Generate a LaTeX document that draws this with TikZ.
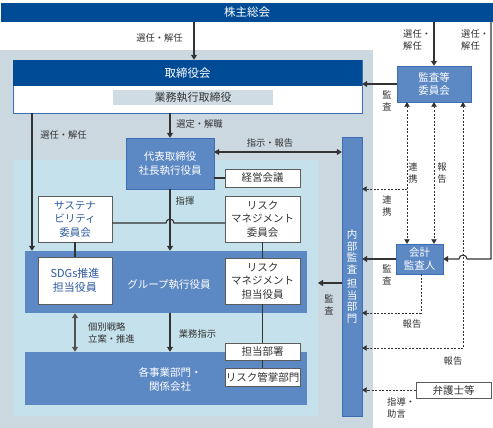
\documentclass[tikz,border=0pt]{standalone}
\usepackage{fontspec}
\setmainfont{Noto Sans CJK JP}
\usepackage{xcolor}
\usepackage{tikz}
\usetikzlibrary{arrows.meta}
\definecolor{darkblue}{HTML}{004B96}
\definecolor{midblue}{HTML}{5C88C4}
\definecolor{midedge}{HTML}{3D6DB3}
\definecolor{graybg}{HTML}{CBD8E0}
\definecolor{lightbg}{HTML}{C5E1EC}
\definecolor{bandbg}{HTML}{D0DCE4}
\definecolor{textblue}{HTML}{2C5AA0}
\definecolor{textgray}{HTML}{333333}
\tikzstyle{line} = [line width=1.1pt,draw=textgray]
\tikzstyle{arrow} = [line,-{Triangle[length=5pt,width=6pt]}]
\tikzstyle{darrow} = [line,{Triangle[length=5pt,width=6pt]}-{Triangle[length=5pt,width=6pt]}]
\tikzstyle{dline} = [line width=0.8pt,draw=textgray,dash pattern=on 2pt off 1.5pt]
\tikzstyle{darrowd} = [dline,-{Triangle[length=4.5pt,width=5.5pt]}]
\tikzstyle{ddarrow} = [dline,{Triangle[length=4.5pt,width=5.5pt]}-{Triangle[length=4.5pt,width=5.5pt]}]
\tikzstyle{bluebox} = [draw=midedge,fill=midblue,text=white,align=center,inner sep=0pt,font=\fontsize{10.5}{13.5}\selectfont]
\tikzstyle{whitebox} = [draw=textgray!80,fill=white,text=textgray,align=center,inner sep=0pt,font=\fontsize{10.5}{13.5}\selectfont]
\tikzstyle{lbl} = [text=textgray,align=center,inner sep=0pt,font=\fontsize{9.3}{12.5}\selectfont]

\begin{document}
\begin{tikzpicture}[x=1pt,y=-1pt]
	\useasboundingbox (0,0) rectangle (493,428);
	
	% Backgrounds:
	\fill[graybg] (0,50) rectangle (373,428);
	\fill[lightbg] (13,160) rectangle (318,416);
	
	% Top bar and board:
	\node[fill=darkblue,text=white,minimum width=492pt,minimum height=19pt,inner sep=0pt,font=\fontsize{11.5}{13}\selectfont] (sh) at (247,12.5) {株主総会};
	\node[draw=midedge,fill=white,minimum width=349pt,minimum height=53pt,inner sep=0pt] (bod) at (187.5,86.5) {};
	\node[fill=darkblue,text=white,minimum width=349pt,minimum height=26pt,inner sep=0pt,font=\fontsize{11.5}{13}\selectfont] (bodhead) at (187.5,73) {取締役会};
	\node[fill=bandbg,text=textgray,minimum width=160pt,minimum height=15pt,inner sep=0pt,font=\fontsize{11}{13}\selectfont] (band) at (193,97.5) {業務執行取締役};
	
	% Executives:
	\node[bluebox,minimum width=88pt,minimum height=51pt] (ceo) at (170,163.5) {代表取締役\\社長執行役員};
	\node[whitebox,minimum width=75pt,minimum height=18pt] (mgmt) at (262.5,178) {経営会議};
	\node[whitebox,minimum width=75pt,minimum height=46pt] (rmc) at (262.5,219) {リスク\\マネジメント\\委員会};
	\node[whitebox,text=textblue,minimum width=74pt,minimum height=46pt] (sus) at (75,219) {サステナ\\ビリティ\\委員会};
	
	% Group executives:
	\node[fill=midblue,minimum width=282pt,minimum height=62pt,inner sep=0pt] (grp) at (166,282) {};
	\node[text=white,inner sep=0pt,font=\fontsize{10.5}{13}\selectfont] (grplbl) at (169,285) {グループ執行役員};
	\node[whitebox,text=textblue,minimum width=74pt,minimum height=47pt,font=\fontsize{11}{14}\selectfont] (sdgs) at (75,280.5) {SDGs推進\\担当役員};
	\node[whitebox,minimum width=75pt,minimum height=46pt] (rmo) at (262.5,281) {リスク\\マネジメント\\担当役員};
	
	% Business units:
	\node[fill=midblue,minimum width=282pt,minimum height=53pt,inner sep=0pt] (biz) at (166,378.5) {};
	\node[text=white,align=center,inner sep=0pt,font=\fontsize{10.5}{14}\selectfont] (bizlbl) at (170,379) {各事業部門・\\関係会社};
	\node[whitebox,minimum width=75pt,minimum height=17pt] (dept) at (262.5,351.5) {担当部署};
	\node[whitebox,minimum width=75pt,minimum height=18pt] (rmd) at (262.5,377) {リスク管掌部門};
	
	% Audit side:
	\node[bluebox,minimum width=20pt,minimum height=279pt,font=\fontsize{10.5}{11.5}\selectfont] (ia) at (352,276.5) {内\\部\\監\\査\\[3pt]担\\当\\部\\門};
	\node[bluebox,minimum width=74pt,minimum height=36pt] (ac) at (434,84) {監査等\\委員会};
	\node[bluebox,minimum width=47pt,minimum height=30pt] (ca) at (419.5,259) {会計\\監査人};
	\node[whitebox,minimum width=75pt,minimum height=16pt] (law) at (453.5,390) {弁護士等};
	\coordinate (iatip) at (318,283);
	
	% Solid connectors:
	\draw[arrow] (sh.south -| 194,0) -- (bod.north -| 194,0);
	\draw[arrow] (bod.south -| ceo) -- (ceo.north);
	\draw[arrow] (bod.south -| 32,0) -- (grp.north -| 32,0);
	\draw[arrow] (ceo.south) -- (grp.north -| ceo);
	\draw[darrow] (ceo.east |- 0,152) -- (ia.west |- 0,152);
	\draw[line] (ceo.east |- mgmt) -- (mgmt.west);
	\draw[line] (sus.east |- 0,223) -- (166,223) arc[start angle=180,end angle=360,radius=4] -- (rmc.west |- 0,223);
	\draw[line] (sus.south) -- (sdgs.north);
	\draw[line] (rmc.south) -- (rmo.north);
	\draw[line] (rmo.south) -- (dept.north);
	\draw[line] (dept.south) -- (rmd.north);
	\draw[darrow,draw=textgray!85] (grp.south -| sdgs) -- (biz.north -| sdgs);
	\draw[arrow] (grp.south -| ceo) -- (biz.north -| ceo);
	\draw[arrow] (ia.west |- iatip) -- (iatip);
	\draw[arrow] (sh.south -| ac) -- (ac.north);
	\draw[arrow] (ac.west) -- (bod.east |- ac.west);
	\draw[arrow] (sh.south -| 491,0) -- (491,259) -- (467,259) arc[start angle=0,end angle=-180,radius=4] -- (ca.east);
	\draw[arrow] (ca.west) -- (ia.east |- ca.west);
	
	% Dashed connectors:
	\draw[ddarrow] (ac.south -| 407,0) -- (ca.north -| 407,0);
	\draw[ddarrow] (ac.south -| 434,0) -- (ca.north -| 434,0);
	\draw[darrowd] (407,189) -- (ia.east |- 0,189);
	\draw[ddarrow] (ac.south -| 463,0) -- (463,348) -- (ia.east |- 0,348);
	\draw[darrowd] (ca.south -| 421,0) -- (421,313) -- (ia.east |- 0,313);
	\draw[darrowd] (law.west) -- (ia.east |- law.west);
	
	% Labels:
	\node[lbl] (l1) at (159.5,38) {選任・解任};
	\node[lbl] (l2) at (199.5,124) {選定・解職};
	\node[lbl] (l3) at (63.5,135) {選任・解任};
	\node[lbl] (l4) at (270,143) {指示・報告};
	\node[lbl] (l5) at (185,201) {指揮};
	\node[lbl,align=left,anchor=west] (l6) at (88,333) {個別戦略\\立案・推進};
	\node[lbl] (l7) at (197.5,334) {業務指示};
	\node[lbl,align=left,anchor=west] (l8) at (403,40) {選任・\\解任};
	\node[lbl,align=left,anchor=west] (l9) at (461,40) {選任・\\解任};
	\node[lbl] (l10) at (387,101) {監\\査};
	\node[lbl] (l11) at (413,173) {連\\携};
	\node[lbl] (l12) at (442,173) {報\\告};
	\node[lbl] (l13) at (387,206) {連\\携};
	\node[lbl] (l14) at (387,275) {監\\査};
	\node[lbl] (l15) at (329,305) {監\\査};
	\node[lbl] (l16) at (412,324) {報告};
	\node[lbl] (l17) at (453,361) {報告};
	\node[lbl,align=left,anchor=west] (l18) at (387,408) {指導・\\助言};
\end{tikzpicture}
\end{document}
